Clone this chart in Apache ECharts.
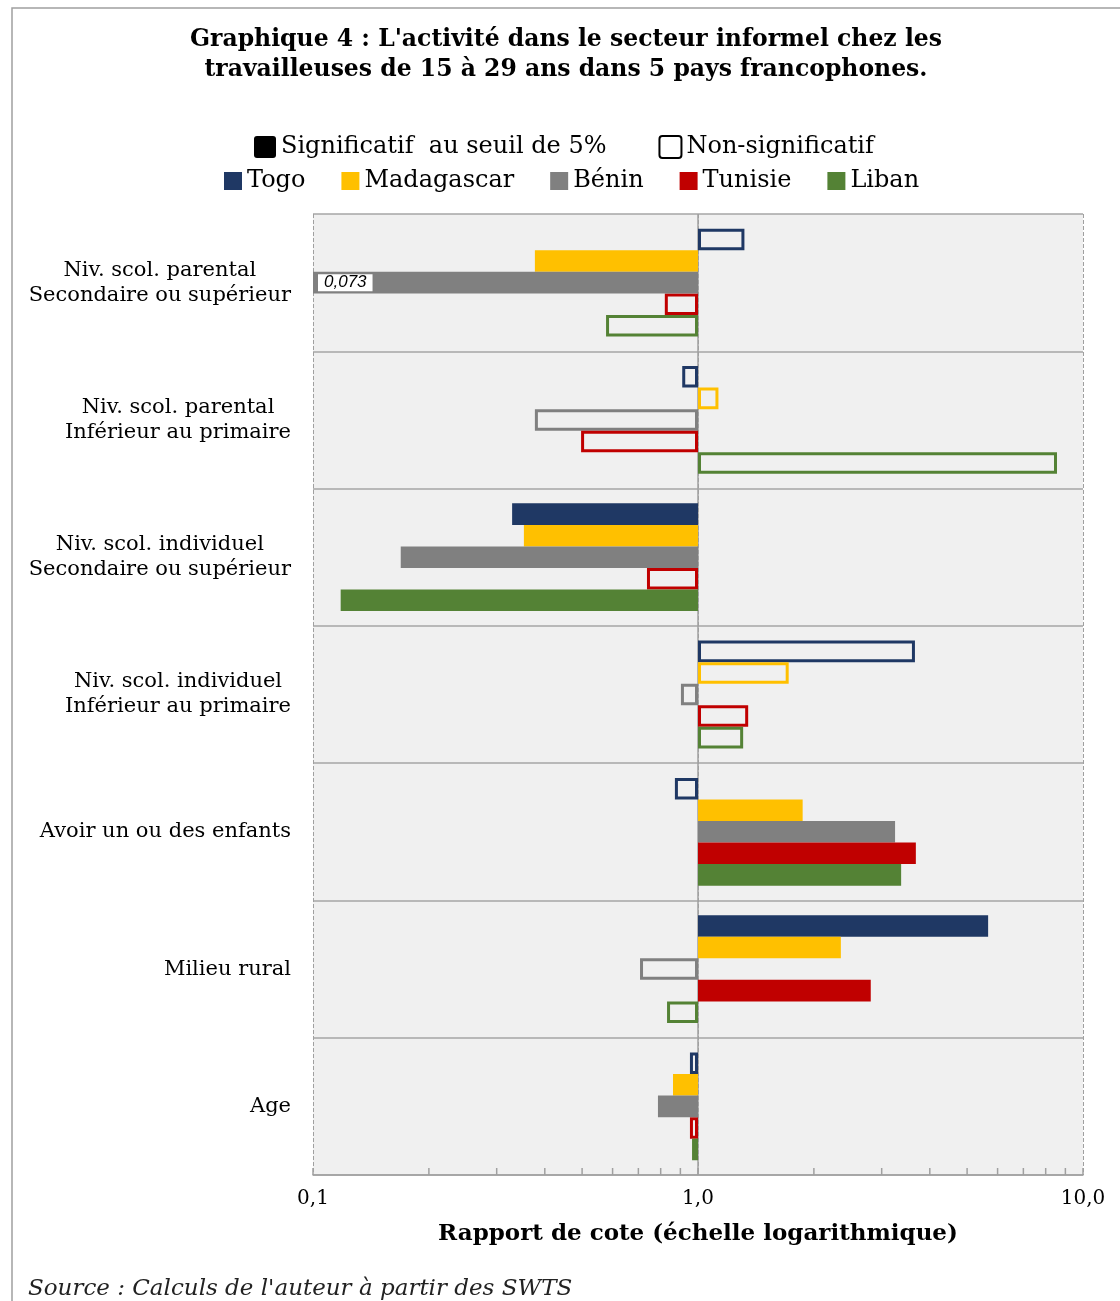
<!DOCTYPE html>
<html><head><meta charset="utf-8">
<script src="https://cdn.jsdelivr.net/npm/echarts@6/dist/echarts.min.js"></script>
<style>html,body{margin:0;padding:0;background:#fff}#c{width:1120px;height:1301px}</style>
</head><body><div id="c"></div>
<script>
const categories = [
  'Niv. scol. parental\nSecondaire ou supérieur',
  'Niv. scol. parental\nInférieur au primaire',
  'Niv. scol. individuel\nSecondaire ou supérieur',
  'Niv. scol. individuel\nInférieur au primaire',
  'Avoir un ou des enfants',
  'Milieu rural',
  'Age'
];
const countries = ['Togo', 'Madagascar', 'Bénin', 'Tunisie', 'Liban'];
const countryColors = ['#1F3864', '#FFC000', '#808080', '#C00000', '#548235'];
// odds ratios (1 = significant at 5%, 0 = not significant)
const togo = [1.32, 0.91, 0.329, 3.66, 0.871, 5.67, 0.953];
const togoSig = [0, 0, 1, 0, 0, 1, 0];
const madagascar = [0.377, 1.13, 0.353, 1.72, 1.87, 2.35, 0.861];
const madagascarSig = [1, 0, 1, 0, 1, 1, 1];
const benin = [0.073, 0.377, 0.169, 0.903, 3.25, 0.707, 0.787];
const beninSig = [1, 0, 1, 0, 1, 0, 1];
const tunisie = [0.82, 0.497, 0.737, 1.35, 3.68, 2.81, 0.953];
const tunisieSig = [0, 0, 0, 0, 1, 1, 0];
const liban = [0.577, 8.56, 0.118, 1.31, 3.37, 0.831, 0.965];
const libanSig = [0, 0, 1, 0, 1, 0, 0];
const xTickLabels = ['0,1', '1,0', '10,0'];
const minorTickValues = [0.2, 0.3, 0.4, 0.5, 0.6, 0.7, 0.8, 0.9, 2, 3, 4, 5, 6, 7, 8, 9];
const sigLegend = ['Significatif  au seuil de 5%', 'Non-significatif'];

const values = [togo, madagascar, benin, tunisie, liban];
const sigs = [togoSig, madagascarSig, beninSig, tunisieSig, libanSig];
const SERIF = 'DejaVu Serif';
const ROUND_SQ = 'path://M3,0 H19 Q22,0 22,3 V19 Q22,22 19,22 H3 Q0,22 0,19 V3 Q0,0 3,0 Z';

function makeRender(si, color) {
  return function (params, api) {
    const v = api.value(0), c = api.value(1), sig = api.value(2);
    const cs = params.coordSys;
    const base = api.coord([1, c]);
    const end = api.coord([v, c]);
    const band = api.size([1, 1], [1, c])[1];
    const h = band * 0.157;
    const yC = base[1] + (si - 2) * h;
    const x1 = Math.max(Math.min(base[0], end[0]), cs.x);
    const x2 = Math.min(Math.max(base[0], end[0]), cs.x + cs.width);
    const children = [];
    if (sig) {
      children.push({
        type: 'rect',
        shape: { x: x1, y: yC - h / 2, width: x2 - x1, height: h },
        style: { fill: color },
        z2: 10
      });
    } else {
      children.push({
        type: 'rect',
        shape: { x: x1 + 1.5, y: yC - h / 2 + 1.5, width: x2 - x1 - 3, height: h - 3 },
        style: { fill: 'none', stroke: color, lineWidth: 3 },
        z2: 5
      });
    }
    if (end[0] < cs.x) {
      children.push({
        type: 'text',
        x: cs.x + 5,
        y: yC,
        style: {
          text: String(v).replace('.', ','),
          font: 'italic 17px "Liberation Sans"',
          fill: '#000',
          align: 'left',
          verticalAlign: 'middle',
          backgroundColor: '#fff',
          borderColor: '#7f7f7f',
          borderWidth: 1,
          padding: [0, 6, 0, 6]
        },
        z2: 20
      });
    }
    return { type: 'group', children: children };
  };
}

const series = countries.map(function (name, si) {
  const s = {
    name: name,
    type: 'custom',
    renderItem: makeRender(si, countryColors[si]),
    itemStyle: { color: countryColors[si] },
    encode: { x: 0, y: 1 },
    data: values[si].map(function (v, i) { return [v, i, sigs[si][i]]; }),
    z: 3
  };
  if (si === 0) {
    s.markLine = {
      silent: true, symbol: 'none', label: { show: false },
      lineStyle: { color: '#a0a0a0', type: 'solid', width: 1.5 },
      data: [{ xAxis: 1 }],
      z: 2
    };
  }
  return s;
});

series.push({
  name: 'minorTicks',
  type: 'custom',
  silent: true,
  z: 4,
  encode: { x: 0, y: 1 },
  data: minorTickValues.map(function (v) { return [v, 0]; }),
  renderItem: function (params, api) {
    const cs = params.coordSys;
    const p = api.coord([api.value(0), 0]);
    const yb = cs.y + cs.height;
    return { type: 'line', shape: { x1: p[0], y1: yb, x2: p[0], y2: yb - 7 }, style: { stroke: '#a0a0a0', lineWidth: 1.5 } };
  }
});
series.push({ name: sigLegend[0], type: 'custom', data: [], renderItem: function () { return null; }, itemStyle: { color: '#000' } });
series.push({ name: sigLegend[1], type: 'custom', data: [], renderItem: function () { return null; }, itemStyle: { color: 'rgba(0,0,0,0)', borderColor: '#000', borderWidth: 2 } });

const chart = echarts.init(document.getElementById('c'), null, { renderer: 'canvas' });
chart.setOption({
  backgroundColor: '#fff',
  animation: false,
  legend: [
    {
      left: 249, top: 130, itemGap: 52, itemWidth: 22, itemHeight: 22,
      selectedMode: false,
      textStyle: { fontFamily: SERIF, fontSize: 24, color: '#000' },
      data: [
        { name: sigLegend[0], icon: ROUND_SQ, itemStyle: { color: '#000' } },
        { name: sigLegend[1], icon: ROUND_SQ, itemStyle: { color: 'rgba(0,0,0,0)', borderColor: '#000', borderWidth: 2 } }
      ]
    },
    {
      left: 219, top: 164, itemGap: 36, itemWidth: 18, itemHeight: 18,
      selectedMode: false,
      textStyle: { fontFamily: SERIF, fontSize: 24, color: '#000' },
      data: countries.map(function (n, i) { return { name: n, icon: 'rect', itemStyle: { color: countryColors[i] } }; })
    }
  ],
  grid: {
    left: 313, right: 37, top: 214, bottom: 126,
    show: true, backgroundColor: '#f0f0f0', borderWidth: 0
  },
  xAxis: {
    type: 'log', logBase: 10, min: 0.1, max: 10,
    axisLine: { show: true, lineStyle: { color: '#a0a0a0', width: 1.5 } },
    axisTick: { show: true, inside: true, length: 7, lineStyle: { color: '#a0a0a0', width: 1.5 } },
    axisLabel: {
      fontFamily: SERIF, fontSize: 20, color: '#000', margin: 14,
      formatter: function (v, i) { return xTickLabels[i]; }
    },
    splitLine: { show: true, lineStyle: { color: '#a0a0a0', type: 'dashed', width: 1 } },
    name: 'Rapport de cote (échelle logarithmique)',
    nameLocation: 'middle', nameGap: 48,
    nameTextStyle: { fontFamily: SERIF, fontSize: 23, fontWeight: 'bold', color: '#000' }
  },
  yAxis: {
    type: 'category', inverse: true, data: categories,
    axisLine: { show: false }, axisTick: { show: false },
    splitLine: { show: true, lineStyle: { color: '#a6a6a6', width: 1.5 } },
    axisLabel: {
      interval: 0, margin: 22, align: 'right',
      formatter: function (v) { return v.split('\n').map(function (s) { return '{c|' + s + '}'; }).join('\n'); },
      rich: { c: { align: 'center', fontFamily: SERIF, fontSize: 21, color: '#000', lineHeight: 25 } }
    }
  },
  graphic: [
    { type: 'rect', shape: { x: 12, y: 8, width: 1140, height: 1400 }, style: { fill: 'none', stroke: '#a0a0a0', lineWidth: 1.5 }, silent: true, z: -10 },
    {
      type: 'text', x: 566, y: 25, silent: true,
      style: {
        text: "Graphique 4 : L'activité dans le secteur informel chez les\ntravailleuses de 15 à 29 ans dans 5 pays francophones.",
        align: 'center', font: 'bold 23.5px "DejaVu Serif"', fill: '#000', lineHeight: 30
      }
    },
    {
      type: 'text', x: 28, y: 1278, silent: true,
      style: { text: "Source : Calculs de l'auteur à partir des SWTS", font: 'italic 23px "DejaVu Serif"', fill: '#222' }
    }
  ],
  series: series
});
</script>
</body></html>
